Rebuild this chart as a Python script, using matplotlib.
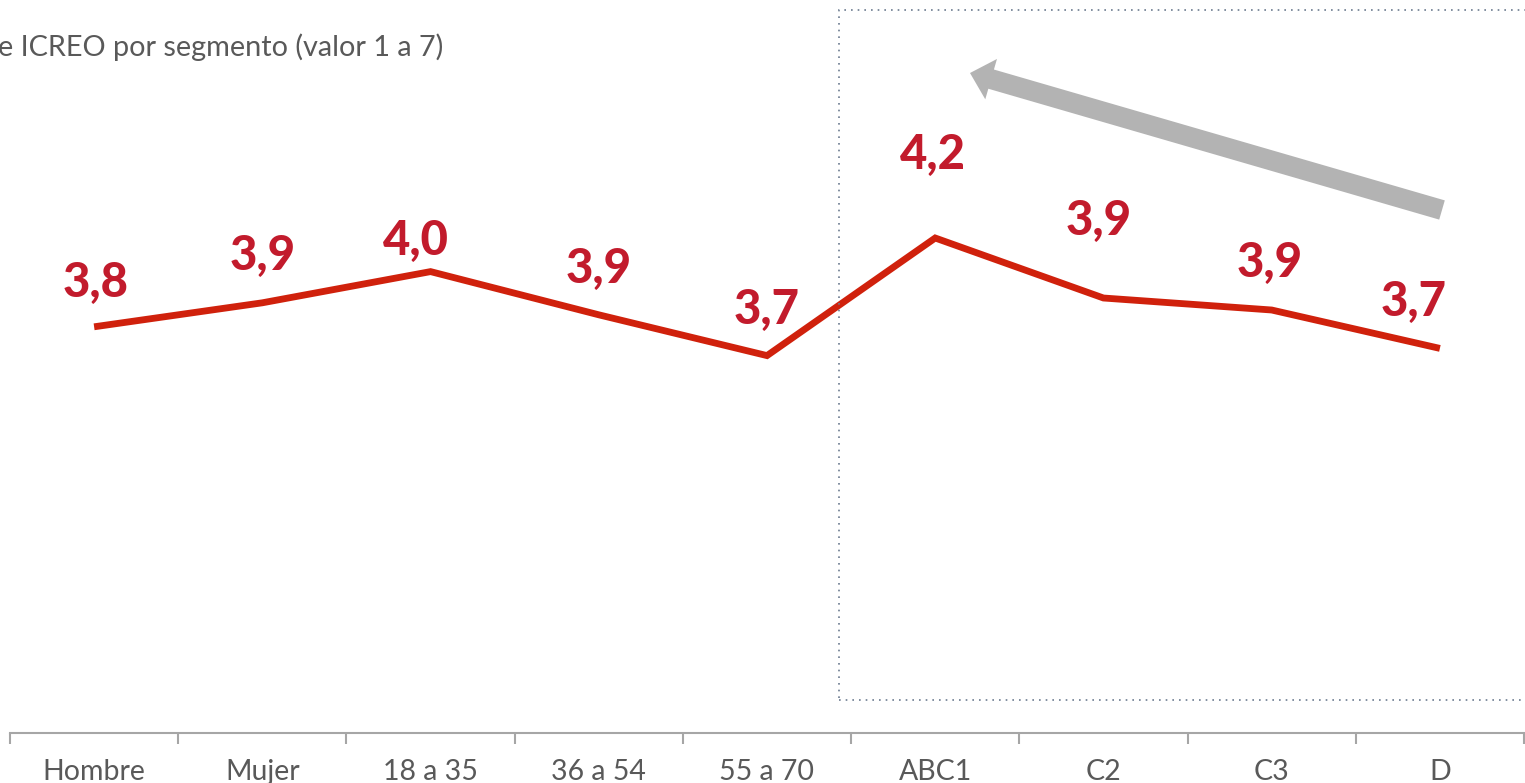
import numpy as np
import matplotlib.pyplot as plt
from matplotlib.patches import FancyArrow, Rectangle
from matplotlib.transforms import IdentityTransform

# ------------ data
categorias = ['Hombre', 'Mujer', '18 a 35', '36 a 54', '55 a 70', 'ABC1', 'C2', 'C3', 'D']
valores = [3.81, 3.91, 4.04, 3.86, 3.69, 4.18, 3.93, 3.88, 3.72]
etiquetas = ['3,8', '3,9', '4,0', '3,9', '3,7', '4,2', '3,9', '3,9', '3,7']
titulo = 'e ICREO por segmento (valor 1 a 7)'

# label offsets in pixels (dx, dy) from each point
offsets = [(2, 44), (0, 47), (-15, 31), (0, 46), (0, 46), (-2, 83), (-5, 77), (-2, 47), (-26, 46)]

W, H = 1525, 783
plt.rcParams['font.family'] = ['Lato', 'DejaVu Sans']
fig = plt.figure(figsize=(W/100, H/100), dpi=100, facecolor='white')
ax = fig.add_axes([10/W, 50/H, 1514/W, 733/H])

x = np.arange(len(categorias))
ax.plot(x, valores, color='#D0210C', linewidth=4.9, solid_joinstyle='miter', solid_capstyle='butt')

for i, (v, lab) in enumerate(zip(valores, etiquetas)):
    dx, dy = offsets[i]
    ax.annotate(lab, (x[i], v), xytext=(dx*0.72, dy*0.72), textcoords='offset points',
                ha='center', va='center', fontsize=34, fontweight='black', color='#C21B2C')

ax.set_xlim(-0.5, len(categorias) - 0.5)
ax.set_ylim(2.1175, 5.1717)

for s in ['top', 'left', 'right']:
    ax.spines[s].set_visible(False)
ax.spines['bottom'].set_color('#A6A6A6')
ax.spines['bottom'].set_linewidth(1.5)
ax.set_yticks([])

# ticks between categories, labels centred
ax.set_xticks(np.arange(-0.5, len(categorias), 1.0))
ax.set_xticklabels([])
ax.tick_params(axis='x', which='major', length=8, width=1.5, color='#A6A6A6', direction='out')
ax.set_xticks(x, minor=True)
ax.set_xticklabels(categorias, minor=True)
ax.tick_params(axis='x', which='minor', length=0, pad=18.5, labelsize=20.5, labelcolor='#595959')

# title (cut at left edge as in the original)
fig.text(-2/W, 1 - 47/H, titulo, ha='left', va='center', fontsize=20.8, color='#595959')

# dotted box around socioeconomic segments
box = Rectangle((839, H - 700), 700, 690, fill=False, edgecolor='#6B7A8F',
                linewidth=1.2, linestyle=(0, (1, 3)), transform=IdentityTransform())
fig.add_artist(box)

# grey arrow
tail = (1442, H - 210)
tip = (970, H - 73)
arr = FancyArrow(tail[0], tail[1], tip[0] - tail[0], tip[1] - tail[1], width=20,
                 head_width=42, head_length=22, length_includes_head=True,
                 color='#B3B3B3', linewidth=0, transform=IdentityTransform())
fig.add_artist(arr)

plt.savefig('out.png', dpi=100, facecolor='white')
